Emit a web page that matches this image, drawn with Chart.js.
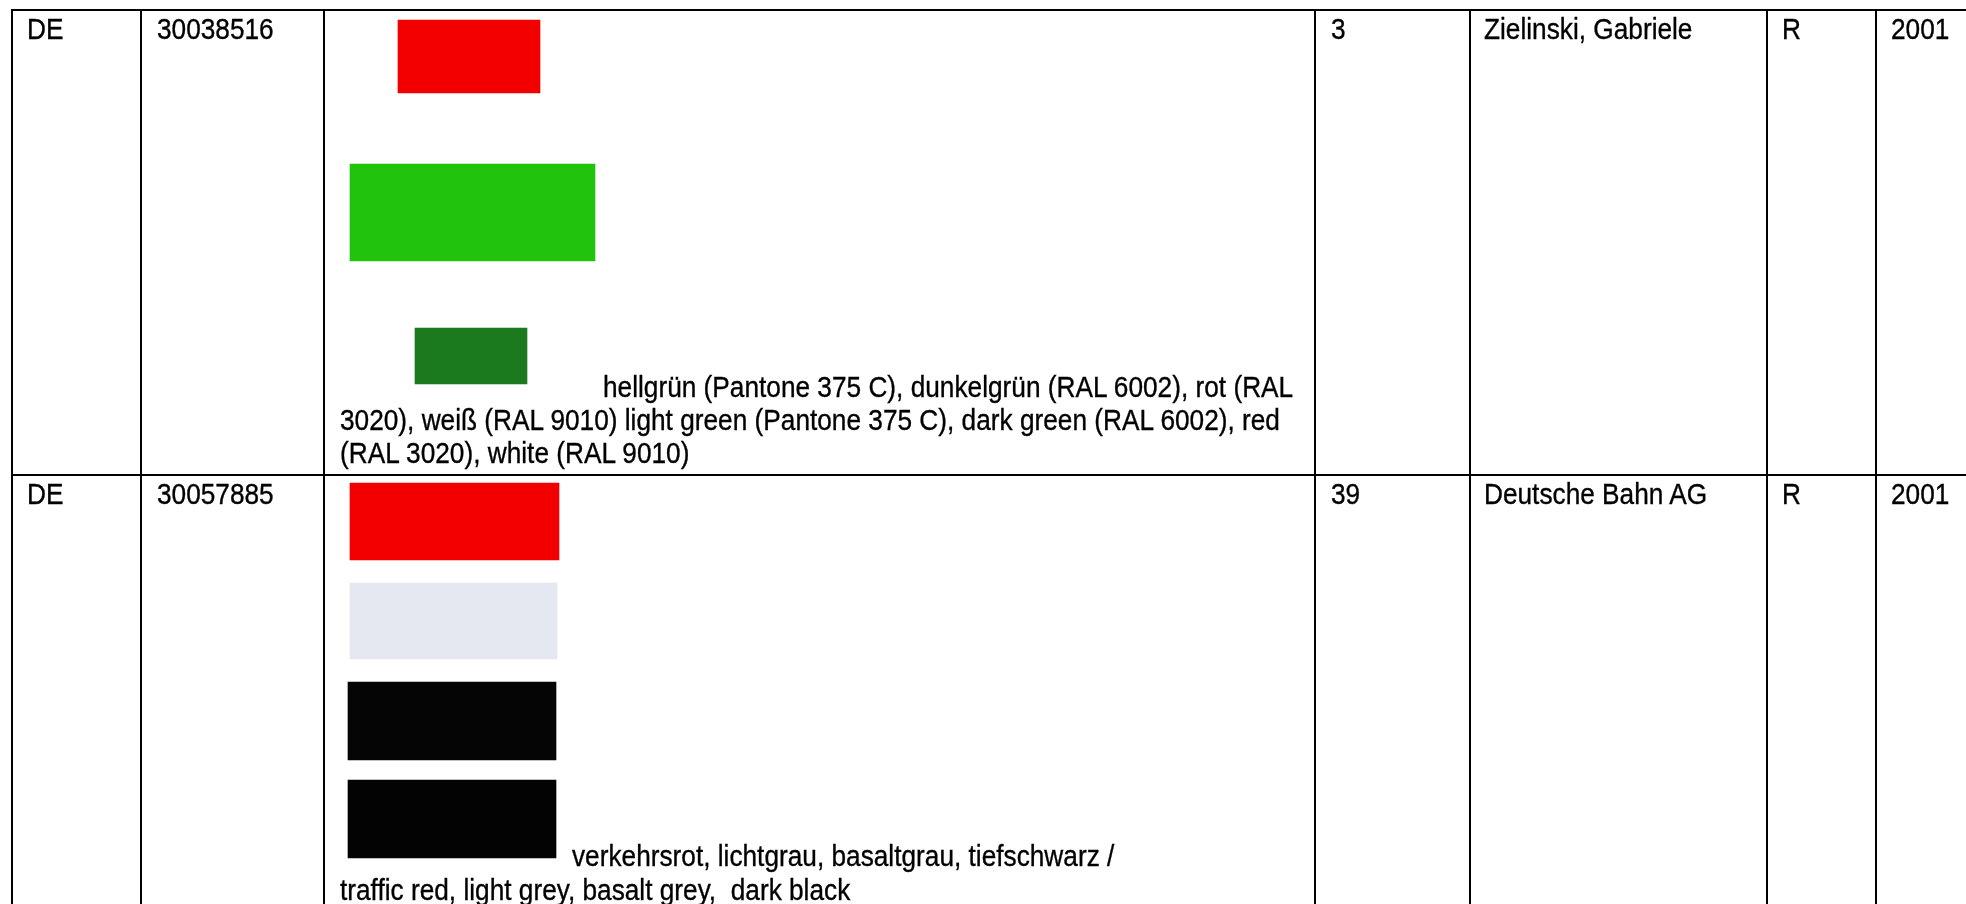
<!DOCTYPE html>
<html><head><meta charset="utf-8">
<script src="https://cdn.jsdelivr.net/npm/chart.js@4/dist/chart.umd.min.js"></script>
<style>
html,body{margin:0;padding:0;background:#fff;overflow:hidden;width:1966px;height:904px}
#wrap{position:relative;width:1966px;height:904px;overflow:hidden}
#c{position:absolute;left:0;top:0}
.t{position:absolute;font-family:"Liberation Sans",Arial,sans-serif;font-size:29px;line-height:33px;color:#000;white-space:pre;transform-origin:0 0;-webkit-text-stroke:0.35px #000}
</style></head><body><div id="wrap"><canvas id="c" width="1966" height="904"></canvas></div>
<script>
// ---- table content ----
const countries = ['DE', 'DE'];
const regNumbers = ['30038516', '30057885'];
const niceClasses = ['3', '39'];
const owners = ['Zielinski, Gabriele', 'Deutsche Bahn AG'];
const kinds = ['R', 'R'];
const years = ['2001', '2001'];
const descriptionLines = [
  ['hellgrün (Pantone 375 C), dunkelgrün (RAL 6002), rot (RAL',
   '3020), weiß (RAL 9010) light green (Pantone 375 C), dark green (RAL 6002), red',
   '(RAL 3020), white (RAL 9010)'],
  ['verkehrsrot, lichtgrau, basaltgrau, tiefschwarz /',
   'traffic red, light grey, basalt grey,  dark black']
];

// ---- colour swatches (extent, page units) ----
const swatchNames = ['rot', 'hellgrün', 'dunkelgrün', 'verkehrsrot', 'lichtgrau', 'basaltgrau', 'tiefschwarz'];
const swatchLeft   = [398, 350, 415, 350, 350, 348, 348];
const swatchRight  = [540, 595, 527, 559, 557, 556, 556];
const swatchTop    = [20, 164, 328, 483, 583, 682, 780];
const swatchBottom = [93, 261, 384, 560, 659, 760, 858];

// ---- table rulings (tick positions on the page axes) ----
const columnEdges = [12, 141, 324, 1315, 1470, 1767, 1876];
const rowEdges = [10, 475];

// styles
const swatchColors = ['#f20000', '#22c30c', '#1b7a1d', '#f20000', '#e5e7f1', '#050505', '#030303'];

const datasets = swatchNames.map((name, i) => ({
  label: name,
  data: [{ x: (swatchLeft[i] + swatchRight[i]) / 2, y: [swatchTop[i], swatchBottom[i]] }],
  barThickness: swatchRight[i] - swatchLeft[i],
  backgroundColor: swatchColors[i],
  borderWidth: 0,
  stack: 'page'
}));

new Chart(document.getElementById('c'), {
  type: 'bar',
  data: { datasets },
  options: {
    responsive: false,
    animation: false,
    events: [],
    layout: { padding: { left: 11, top: 9, right: 0, bottom: 0 } },
    plugins: { legend: { display: false }, tooltip: { enabled: false } },
    scales: {
      x: {
        type: 'linear', min: 11, max: 1966, offset: false,
        grid: { offset: false, color: '#000', lineWidth: 2, drawTicks: false },
        border: { display: false },
        ticks: { display: false },
        afterBuildTicks: s => { s.ticks = columnEdges.map(v => ({ value: v })); }
      },
      y: {
        type: 'linear', min: 9, max: 904, reverse: true, stacked: false,
        grid: { color: '#000', lineWidth: 2, drawTicks: false },
        border: { display: false },
        ticks: { display: false },
        afterBuildTicks: s => { s.ticks = rowEdges.map(v => ({ value: v })); }
      }
    }
  }
});

// ---- text ----
const wrap = document.getElementById('wrap');
const spans = [];
function put(text, x, baseline) {
  const d = document.createElement('div');
  d.className = 't';
  d.textContent = text;
  d.style.left = x + 'px';
  d.style.top = (baseline - 26.5) + 'px';
  wrap.appendChild(d);
  spans.push(d);
  return d;
}
const cellX = [27, 157, 1331, 1484, 1782, 1891];
rowEdges.forEach((top, r) => {
  const b = top + 29;
  put(countries[r], cellX[0], b);
  put(regNumbers[r], cellX[1], b);
  put(niceClasses[r], cellX[2], b);
  put(owners[r], cellX[3], b);
  put(kinds[r], cellX[4], b);
  put(years[r], cellX[5], b);
});
const d1 = [[603, 397], [340, 430], [340, 463]];
const ref = [];
descriptionLines[0].forEach((l, i) => ref.push(put(l, d1[i][0], d1[i][1])));
const d2 = [[572, 866], [340, 900]];
descriptionLines[1].forEach((l, i) => put(l, d2[i][0], d2[i][1]));
const natural = ref[1].getBoundingClientRect().width;
const sx = 940 / natural;
spans.forEach(s => { s.style.transform = 'scaleX(' + sx.toFixed(4) + ')'; });
</script></body></html>
